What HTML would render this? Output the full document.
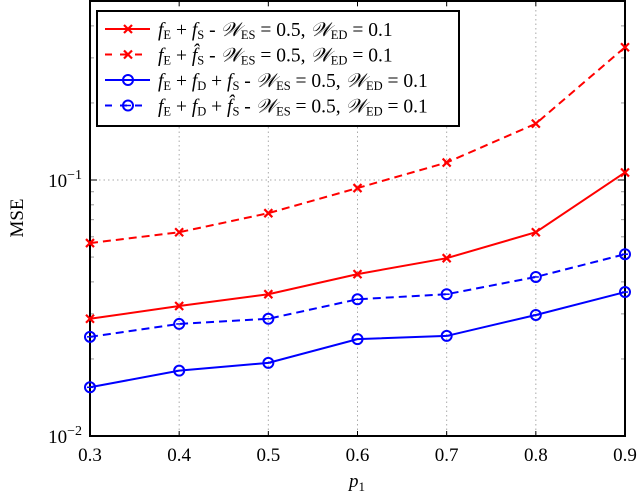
<!DOCTYPE html>
<html><head><meta charset="utf-8"><style>
body{margin:0;background:#fff}
svg text{font-family:"Liberation Serif",serif}
</style></head><body>
<svg id="c" width="640" height="493" viewBox="0 0 640 493" xmlns="http://www.w3.org/2000/svg"></svg>
<script>
const categories=[0.3,0.4,0.5,0.6,0.7,0.8,0.9];
const redSolid=[0.0287,0.0322,0.0358,0.0429,0.0495,0.0625,0.107];
const redDashed=[0.0567,0.0625,0.0742,0.093,0.117,0.166,0.33];
const blueSolid=[0.0155,0.018,0.0193,0.0239,0.0246,0.0297,0.0365];
const blueDashed=[0.0244,0.0274,0.0287,0.0342,0.0358,0.0418,0.0513];
const xTickLabels=["0.3","0.4","0.5","0.6","0.7","0.8","0.9"];
const L=90,R=625,T=1,B=436;
const xs=v=>L+(v-0.3)/0.6*(R-L);
const ys=v=>B-(Math.log10(v)+2)*256;
const NS="http://www.w3.org/2000/svg";
const svg=document.getElementById('c');
function mk(tag,a,p){const e=document.createElementNS(NS,tag);for(const k in a)e.setAttribute(k,a[k]);(p||svg).appendChild(e);return e;}
categories.forEach((c,i)=>{
 const g=mk('line',{x1:xs(c),x2:xs(c),y1:T,y2:B,stroke:'#aaa','stroke-dasharray':'1.5,3','stroke-width':1});
 
 
 mk('line',{x1:xs(c),x2:xs(c),y1:B,y2:B-5,stroke:'#000','stroke-width':1});
 mk('line',{x1:xs(c),x2:xs(c),y1:T,y2:T+5,stroke:'#000','stroke-width':1});
 const lb=mk('text',{x:xs(c),y:B+25,'text-anchor':'middle','font-size':19});
 lb.textContent=xTickLabels[i];
 
 
});
const gy=mk('line',{x1:L,x2:R,y1:ys(0.1),y2:ys(0.1),stroke:'#aaa','stroke-dasharray':'1.5,3'});


for(let d of [0.01,0.1]){for(let m=2;m<=9;m++){const v=d*m;const y=ys(v);if(y<T)continue;
 mk('line',{x1:L,x2:L+4,y1:y,y2:y,stroke:'#999'});mk('line',{x1:R,x2:R-4,y1:y,y2:y,stroke:'#999'});}}
[0.01,0.1].forEach(v=>{mk('line',{x1:L,x2:L+7,y1:ys(v),y2:ys(v),stroke:'#000'});mk('line',{x1:R,x2:R-7,y1:ys(v),y2:ys(v),stroke:'#000'});});
const f=mk('rect',{x:L,y:T,width:R-L,height:B-T,fill:'none',stroke:'#000','stroke-width':2});


function ylab(v,exp){const t=mk('text',{x:82,y:ys(v)+7,'text-anchor':'end','font-size':19});
 t.innerHTML='10<tspan dy="-8" font-size="14">−'+exp+'</tspan>';
 
 }
ylab(0.1,1);ylab(0.01,2);
const yt=mk('text',{x:0,y:0,transform:'translate(23,218) rotate(-90)','text-anchor':'middle','font-size':19});
yt.textContent='MSE';


const xt=mk('text',{x:357,y:487,'text-anchor':'middle','font-size':19,'font-style':'italic'});
xt.innerHTML='p<tspan dy="4" font-size="13" font-style="normal">1</tspan>';


function marker(g,x,y,type,col){
 if(type==='x'){mk('path',{d:`M${x-4},${y-4}L${x+4},${y+4}M${x-4},${y+4}L${x+4},${y-4}`,stroke:col,'stroke-width':2.2,fill:'none'},g);}
 else{mk('circle',{cx:x,cy:y,r:5,stroke:col,'stroke-width':2,fill:'none'},g);mk('line',{x1:x-3,x2:x+3,y1:y,y2:y,stroke:col,'stroke-width':1.5},g);}
}
function series(vals,col,dash,type,name){
 const g=mk('g',{});
 
 
 mk('polyline',{points:vals.map((v,i)=>xs(categories[i])+','+ys(v)).join(' '),fill:'none',stroke:col,'stroke-width':2,'stroke-dasharray':dash?'8,5':'none'},g);
 vals.forEach((v,i)=>marker(g,xs(categories[i]),ys(v),type,col));
}
series(redDashed,'#f00',true,'x','series-fe-fs-hat');
series(redSolid,'#f00',false,'x','series-fe-fs');
series(blueDashed,'#00f',true,'o','series-fe-fd-fs-hat');
series(blueSolid,'#00f',false,'o','series-fe-fd-fs');
const lg=mk('g',{});


mk('rect',{x:97,y:11,width:362,height:115,fill:'#fff',stroke:'#000','stroke-width':2},lg);
const S='<tspan font-size="12.5" dy="3">',E='</tspan>';
const W='<tspan font-style="italic">𝒲</tspan>';
const labels=[
 ['<tspan font-style="italic">f</tspan>'+S+'E'+E+'<tspan dy="-3"> + </tspan><tspan font-style="italic">f</tspan>'+S+'S'+E+'<tspan dy="-3"> - </tspan>'+W+S+'ES'+E+'<tspan dy="-3"> = 0.5, </tspan>'+W+S+'ED'+E+'<tspan dy="-3"> = 0.1</tspan>','#f00',false,'x'],
 ['<tspan font-style="italic">f</tspan>'+S+'E'+E+'<tspan dy="-3"> + </tspan><tspan font-style="italic">f̂</tspan>'+S+'S'+E+'<tspan dy="-3"> - </tspan>'+W+S+'ES'+E+'<tspan dy="-3"> = 0.5, </tspan>'+W+S+'ED'+E+'<tspan dy="-3"> = 0.1</tspan>','#f00',true,'x'],
 ['<tspan font-style="italic">f</tspan>'+S+'E'+E+'<tspan dy="-3"> + </tspan><tspan font-style="italic">f</tspan>'+S+'D'+E+'<tspan dy="-3"> + </tspan><tspan font-style="italic">f</tspan>'+S+'S'+E+'<tspan dy="-3"> - </tspan>'+W+S+'ES'+E+'<tspan dy="-3"> = 0.5, </tspan>'+W+S+'ED'+E+'<tspan dy="-3"> = 0.1</tspan>','#00f',false,'o'],
 ['<tspan font-style="italic">f</tspan>'+S+'E'+E+'<tspan dy="-3"> + </tspan><tspan font-style="italic">f</tspan>'+S+'D'+E+'<tspan dy="-3"> + </tspan><tspan font-style="italic">f̂</tspan>'+S+'S'+E+'<tspan dy="-3"> - </tspan>'+W+S+'ES'+E+'<tspan dy="-3"> = 0.5, </tspan>'+W+S+'ED'+E+'<tspan dy="-3"> = 0.1</tspan>','#00f',true,'o']];
labels.forEach((l,i)=>{
 const y=29+i*25.5;
 const e=mk('g',{},lg);
 
 
 mk('line',{x1:105,x2:150,y1:y,y2:y,stroke:l[1],'stroke-width':2,'stroke-dasharray':l[2]?'7,8':'none'},e);
 marker(e,128,y,l[3],l[1]);
 const t=mk('text',{x:158,y:y+7,'font-size':19.5},e);
 t.innerHTML=l[0];
});
</script>
</body></html>
